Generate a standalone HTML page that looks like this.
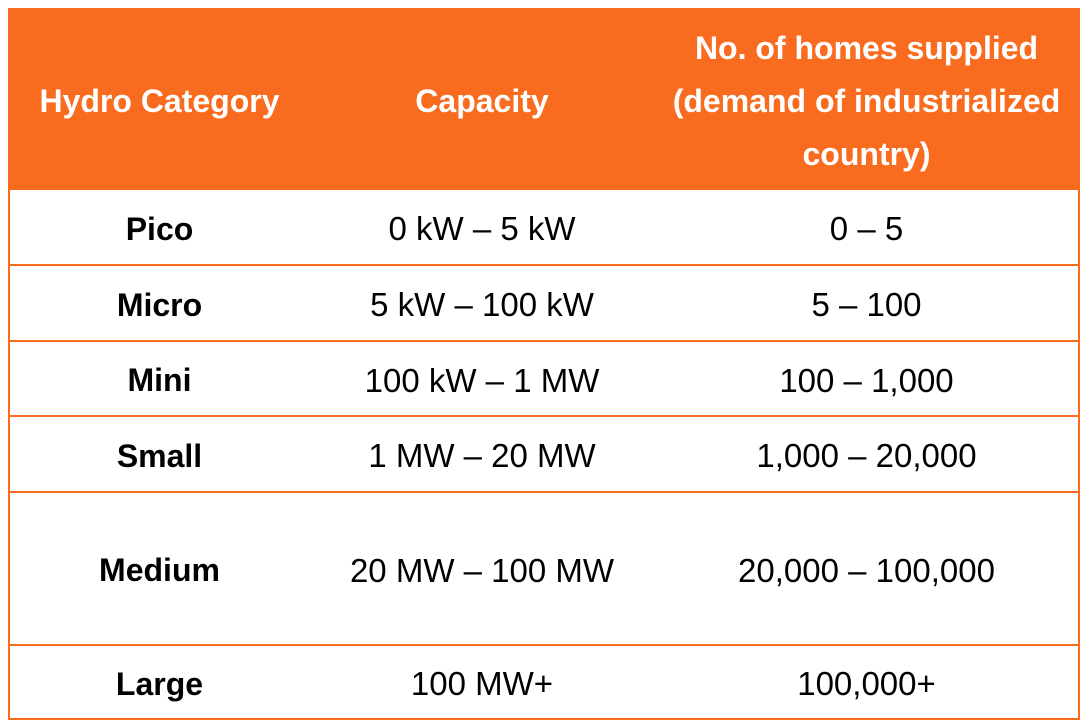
<!DOCTYPE html>
<html><head><meta charset="utf-8"><style>
body{margin:0;width:1086px;height:724px;background:#fff;overflow:hidden}
table{position:absolute;left:8px;top:8px;border-collapse:collapse;font-family:"Liberation Sans",sans-serif;width:1070px;table-layout:fixed}
td,th{text-align:center;color:#000;font-size:33px;padding:0;border-bottom:2px solid #F96B1E}
td{padding-top:4px}
th{background:#F96B1E;color:#fff;font-weight:bold;font-size:32px;height:182px;line-height:53px;border-bottom:none;padding-top:4px;box-sizing:border-box}
td.c{font-weight:bold;font-size:32px}
table{border-left:2px solid #F96B1E;border-right:2px solid #F96B1E}
</style></head><body>
<table>
<colgroup><col style="width:300px"><col style="width:346px"><col style="width:424px"></colgroup>
<tr>
<th>Hydro Category</th>
<th>Capacity</th>
<th>No. of homes supplied<br>(demand of industrialized<br>country)</th></tr>
<tr style="height:75px"><td class="c">Pico</td><td>0 kW – 5 kW</td><td>0 – 5</td></tr>
<tr style="height:76px"><td class="c">Micro</td><td>5 kW – 100 kW</td><td>5 – 100</td></tr>
<tr style="height:75px"><td class="c">Mini</td><td>100 kW – 1 MW</td><td>100 – 1,000</td></tr>
<tr style="height:76px"><td class="c">Small</td><td>1 MW – 20 MW</td><td>1,000 – 20,000</td></tr>
<tr style="height:153px"><td class="c">Medium</td><td>20 MW – 100 MW</td><td>20,000 – 100,000</td></tr>
<tr style="height:74px"><td class="c">Large</td><td>100 MW+</td><td>100,000+</td></tr>
</table>
</body></html>
